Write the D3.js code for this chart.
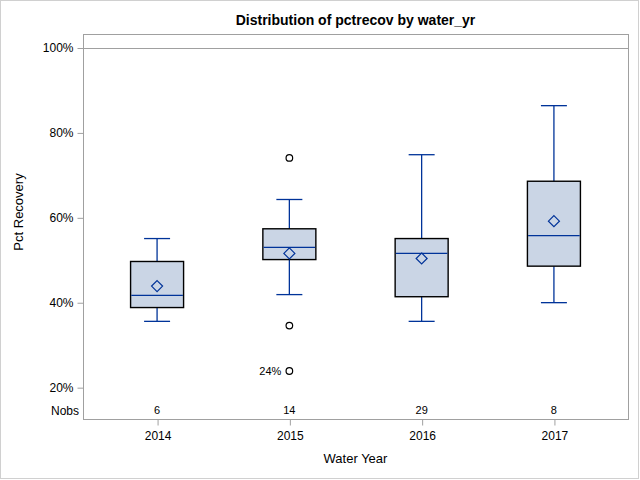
<!DOCTYPE html>
<html>
<head>
<meta charset="utf-8">
<script src="https://cdn.jsdelivr.net/npm/d3@7"></script>
<style>
  body { margin: 0; background: #fff; }
  svg { display: block; font-family: "Liberation Sans", Arial, sans-serif; }
</style>
</head>
<body>
<div id="chart"></div>
<script>
const years = ["2014", "2015", "2016", "2017"];
const nobs = [6, 14, 29, 8];
const whiskerLow = [35.5, 41.8, 35.5, 39.9];
const q1 = [38.75, 50.05, 41.3, 48.5];
const median = [41.6, 52.9, 51.5, 55.7];
const q3 = [49.6, 57.3, 55.0, 68.5];
const whiskerHigh = [55.0, 64.2, 74.75, 86.3];
const means = [43.8, 51.5, 50.3, 59.1];
const outliers = [
  { year: "2015", value: 74.0, label: "" },
  { year: "2015", value: 34.5, label: "" },
  { year: "2015", value: 23.8, label: "24%" },
];
const yTicks = [20, 40, 60, 80, 100];

const width = 640;
const height = 480;
const frame = { left: 83, right: 628, top: 34, bottom: 419 };
const blue = "#003399";

const boxes = years.map((year, i) => ({
  year,
  n: nobs[i],
  lo: whiskerLow[i],
  q1: q1[i],
  med: median[i],
  q3: q3[i],
  hi: whiskerHigh[i],
  mean: means[i],
}));

const x = d3
  .scalePoint()
  .domain(years)
  .range([frame.left, frame.right])
  .padding(0.56);

const y = d3
  .scaleLinear()
  .domain([12.5, 100])
  .range([frame.bottom, 47.5]);

const svg = d3
  .select("#chart")
  .append("svg")
  .attr("width", width)
  .attr("height", height);

// outer border
svg
  .append("rect")
  .attr("x", 0.5)
  .attr("y", 0.5)
  .attr("width", width - 2)
  .attr("height", height - 2)
  .attr("fill", "none")
  .attr("stroke", "#d0d0d0");

svg
  .append("text")
  .attr("x", (frame.left + frame.right) / 2)
  .attr("y", 25)
  .attr("text-anchor", "middle")
  .attr("font-size", 14)
  .attr("font-weight", "bold")
  .attr("fill", "#000")
  .text("Distribution of pctrecov by water_yr");

// reference line at 100%
svg
  .append("line")
  .attr("x1", frame.left)
  .attr("x2", frame.right)
  .attr("y1", Math.round(y(100)) + 0.5)
  .attr("y2", Math.round(y(100)) + 0.5)
  .attr("stroke", "#a0a0a0");

// frame
svg
  .append("rect")
  .attr("x", frame.left + 0.5)
  .attr("y", frame.top + 0.5)
  .attr("width", frame.right - frame.left)
  .attr("height", frame.bottom - frame.top)
  .attr("fill", "none")
  .attr("stroke", "#a0a0a0");

const yAxis = svg
  .append("g")
  .attr("transform", `translate(${frame.left + 0.5},0.5)`)
  .call(
    d3
      .axisLeft(y)
      .tickValues(yTicks)
      .tickSize(6)
      .tickPadding(4)
      .tickFormat((d) => d + "%")
  );
yAxis.select(".domain").remove();
yAxis.selectAll(".tick line").attr("stroke", "#a0a0a0");
yAxis
  .selectAll(".tick text")
  .attr("font-size", 12)
  .attr("font-family", "Liberation Sans, Arial, sans-serif")
  .attr("fill", "#000");

const xAxis = svg
  .append("g")
  .attr("transform", `translate(0.5,${frame.bottom + 0.5})`)
  .call(d3.axisBottom(x).tickSize(6).tickPadding(6));
xAxis.select(".domain").remove();
xAxis.selectAll(".tick line").attr("stroke", "#a0a0a0");
xAxis
  .selectAll(".tick text")
  .attr("font-size", 12)
  .attr("font-family", "Liberation Sans, Arial, sans-serif")
  .attr("fill", "#000");

svg
  .append("text")
  .attr("x", (frame.left + frame.right) / 2)
  .attr("y", 463)
  .attr("text-anchor", "middle")
  .attr("font-size", 13)
  .attr("fill", "#000")
  .text("Water Year");

svg
  .append("text")
  .attr("transform", `translate(23,212) rotate(-90)`)
  .attr("text-anchor", "middle")
  .attr("font-size", 13)
  .attr("fill", "#000")
  .text("Pct Recovery");

// Nobs row
svg
  .append("text")
  .attr("x", 79)
  .attr("y", 415)
  .attr("text-anchor", "end")
  .attr("font-size", 12)
  .attr("fill", "#000")
  .text("Nobs");

svg
  .append("g")
  .selectAll("text")
  .data(boxes)
  .join("text")
  .attr("x", (d) => x(d.year))
  .attr("y", 414)
  .attr("text-anchor", "middle")
  .attr("font-size", 11)
  .attr("fill", "#000")
  .text((d) => d.n);

const boxW = 53;
const capW = 26;

const g = svg
  .append("g")
  .selectAll("g")
  .data(boxes)
  .join("g")
  .attr("transform", (d) => `translate(${x(d.year)},0)`);

// whiskers
g.append("line")
  .attr("y1", (d) => y(d.hi))
  .attr("y2", (d) => y(d.q3))
  .attr("stroke", blue)
  .attr("stroke-width", 1.3);
g.append("line")
  .attr("y1", (d) => y(d.q1))
  .attr("y2", (d) => y(d.lo))
  .attr("stroke", blue)
  .attr("stroke-width", 1.3);
g.append("line")
  .attr("x1", -capW / 2)
  .attr("x2", capW / 2)
  .attr("y1", (d) => y(d.hi))
  .attr("y2", (d) => y(d.hi))
  .attr("stroke", blue)
  .attr("stroke-width", 1.3);
g.append("line")
  .attr("x1", -capW / 2)
  .attr("x2", capW / 2)
  .attr("y1", (d) => y(d.lo))
  .attr("y2", (d) => y(d.lo))
  .attr("stroke", blue)
  .attr("stroke-width", 1.3);

// box
g.append("rect")
  .attr("x", -boxW / 2)
  .attr("y", (d) => y(d.q3))
  .attr("width", boxW)
  .attr("height", (d) => y(d.q1) - y(d.q3))
  .attr("fill", "#cad5e5")
  .attr("stroke", "#000")
  .attr("stroke-width", 1.4);

// median
g.append("line")
  .attr("x1", -boxW / 2 + 0.7)
  .attr("x2", boxW / 2 - 0.7)
  .attr("y1", (d) => y(d.med))
  .attr("y2", (d) => y(d.med))
  .attr("stroke", blue)
  .attr("stroke-width", 1.3);

// mean diamond
g.append("path")
  .attr("transform", (d) => `translate(0,${y(d.mean)})`)
  .attr("d", "M0,-5.5L5.5,0L0,5.5L-5.5,0Z")
  .attr("fill", "none")
  .attr("stroke", blue)
  .attr("stroke-width", 1.2);

// outliers
svg
  .append("g")
  .selectAll("circle")
  .data(outliers)
  .join("circle")
  .attr("cx", (d) => x(d.year))
  .attr("cy", (d) => y(d.value))
  .attr("r", 3.3)
  .attr("fill", "none")
  .attr("stroke", "#000")
  .attr("stroke-width", 1.2);

svg
  .append("g")
  .selectAll("text")
  .data(outliers.filter((d) => d.label))
  .join("text")
  .attr("x", (d) => x(d.year) - 8)
  .attr("y", (d) => y(d.value) + 4)
  .attr("text-anchor", "end")
  .attr("font-size", 11)
  .attr("fill", "#000")
  .text((d) => d.label);
</script>
</body>
</html>
